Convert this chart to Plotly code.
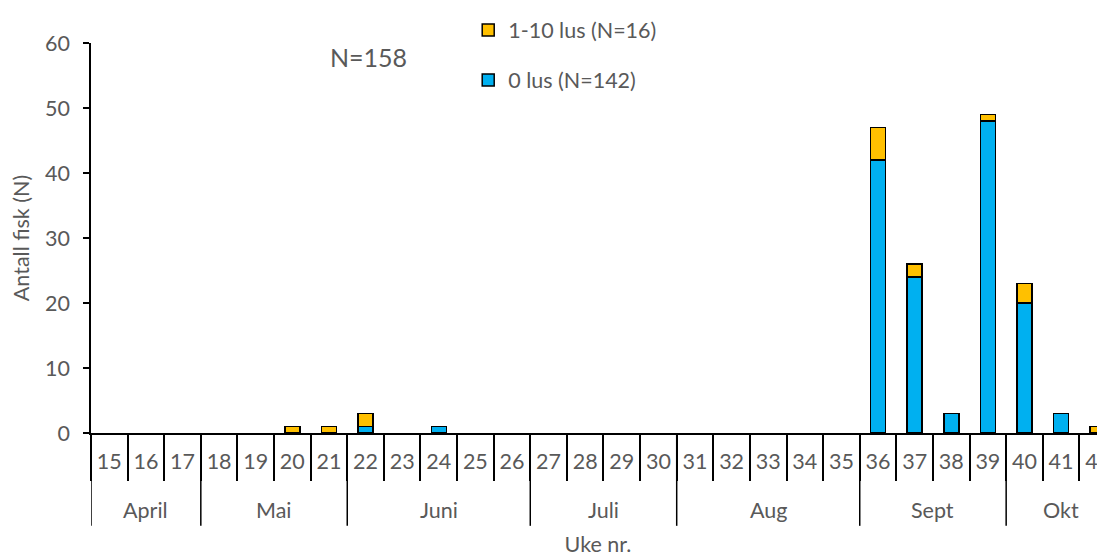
import plotly.graph_objects as go

weeks = list(range(15, 43))
week_labels = [str(w) for w in weeks]
lus0 = [0, 0, 0, 0, 0, 0, 0, 1, 0, 1, 0, 0, 0, 0, 0, 0, 0, 0, 0, 0, 0, 42, 24, 3, 48, 20, 3, 0]
lus1_10 = [0, 0, 0, 0, 0, 1, 1, 2, 0, 0, 0, 0, 0, 0, 0, 0, 0, 0, 0, 0, 0, 5, 2, 0, 1, 3, 0, 1]
months = ["April", "Mai", "Juni", "Juli", "Aug", "Sept", "Okt"]
month_first_week = [15, 18, 22, 27, 31, 36, 40]
month_last_week = [17, 21, 26, 30, 35, 39, 42]

FONT = "Lato"
FS = 21.5
GREY = "#595959"
BLUE = "#00B0F0"
ORANGE = "#FFC000"

# the page body has an 8px default margin; margins below compensate for it
OFF = 8


def nz(vals):
    # hide empty segments so no outline is drawn for zero counts
    return [v if v else None for v in vals]


fig = go.Figure()
fig.add_trace(go.Bar(x=weeks, y=nz(lus0), name="0 lus (N=142)",
                     marker=dict(color=BLUE, line=dict(color="black", width=1.5)),
                     width=0.41, legend="legend2"))
fig.add_trace(go.Bar(x=weeks, y=nz(lus1_10), name="1-10 lus (N=16)",
                     marker=dict(color=ORANGE, line=dict(color="black", width=1.5)),
                     width=0.41, legend="legend"))

boundaries = [w - 0.5 for w in weeks]

shapes = []
for fw in month_first_week:
    shapes.append(dict(type="line", xref="x", yref="paper", x0=fw - 0.5, x1=fw - 0.5, y0=0, y1=-0.238,
                       line=dict(color="black", width=1.5)))

annotations = []
for m, fw, lw in zip(months, month_first_week, month_last_week):
    annotations.append(dict(text=m, x=(fw + lw) / 2, xref="x", y=-0.197, yref="paper", showarrow=False,
                            font=dict(family=FONT, size=FS, color=GREY), xanchor="center", yanchor="middle"))
annotations.append(dict(text="N=158", x=0.274, y=0.964, xref="paper", yref="paper", showarrow=False,
                        font=dict(family=FONT, size=25, color=GREY), xanchor="center", yanchor="middle"))

fig.update_layout(
    barmode="stack",
    width=1105, height=558,
    margin=dict(l=91 - OFF, r=OFF, t=43 - OFF, b=125 + OFF, autoexpand=False),
    plot_bgcolor="white", paper_bgcolor="white",
    font=dict(family=FONT, size=FS, color=GREY),
    shapes=shapes,
    annotations=annotations,
    legend=dict(x=0.372, y=1.033, xanchor="left", yanchor="middle", bgcolor="rgba(0,0,0,0)",
                font=dict(family=FONT, size=FS, color=GREY)),
    legend2=dict(x=0.372, y=0.905, xanchor="left", yanchor="middle", bgcolor="rgba(0,0,0,0)",
                 font=dict(family=FONT, size=FS, color=GREY)),
    xaxis=dict(range=[14.5, 42.2], tickvals=weeks, ticktext=week_labels, ticks="", showgrid=False,
               zeroline=False, showline=True, linecolor="black", linewidth=1.5, automargin=False,
               ticklabelstandoff=8,
               minor=dict(tickvals=boundaries, ticks="outside", ticklen=46, tickcolor="black", tickwidth=1.5,
                          showgrid=False),
               tickfont=dict(family=FONT, size=FS, color=GREY),
               title=dict(text="Uke nr.", standoff=64, font=dict(family=FONT, size=FS, color=GREY))),
    yaxis=dict(range=[0, 60], dtick=10, ticks="outside", ticklen=6, tickcolor="black", tickwidth=1.5,
               showgrid=False, zeroline=False, showline=True, linecolor="black", linewidth=1.5, automargin=False,
               ticklabelstandoff=9,
               tickfont=dict(family=FONT, size=FS, color=GREY),
               title=dict(text="Antall fisk (N)", standoff=12, font=dict(family=FONT, size=FS, color=GREY))),
    showlegend=True,
)

fig.write_html("out.html")
